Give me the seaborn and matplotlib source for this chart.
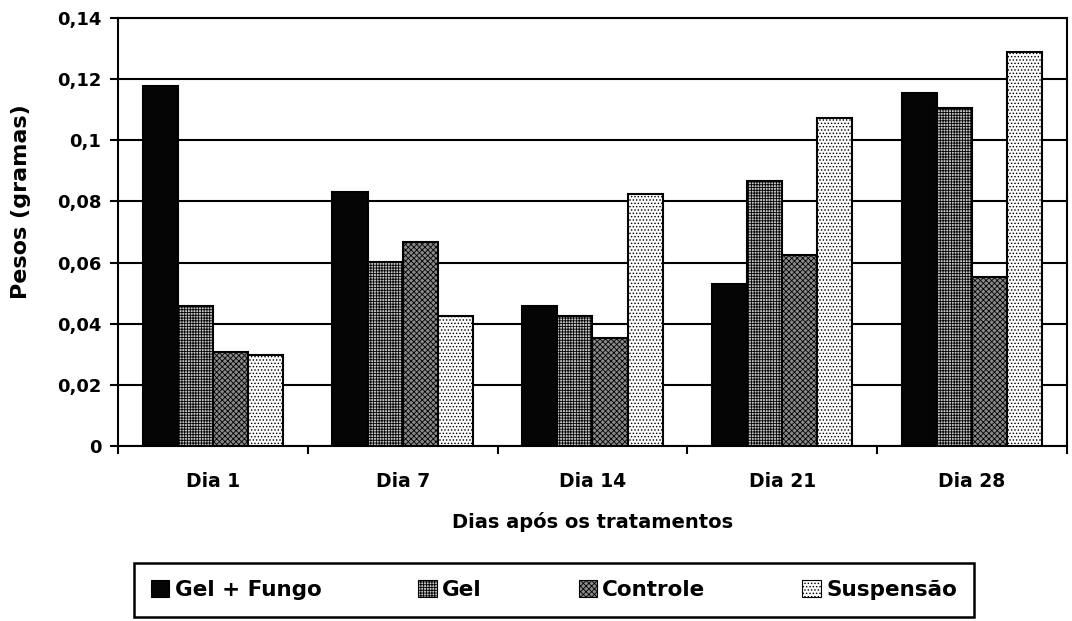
import pandas as pd
import matplotlib
matplotlib.use("Agg")
import matplotlib.pyplot as plt
import seaborn as sns
from matplotlib.ticker import FuncFormatter, FixedLocator

# values
dias = ['Dia 1', 'Dia 7', 'Dia 14', 'Dia 21', 'Dia 28']
tratamentos = ['Gel + Fungo', 'Gel', 'Controle', 'Suspensão']
gel_fungo = [0.1177, 0.0830, 0.0459, 0.0530, 0.1154]
gel = [0.0459, 0.0602, 0.0426, 0.0868, 0.1105]
controle = [0.0306, 0.0667, 0.0352, 0.0625, 0.0552]
suspensao = [0.0297, 0.0424, 0.0823, 0.1074, 0.1288]

rows = []
for nome, vals in zip(tratamentos, [gel_fungo, gel, controle, suspensao]):
    for d, v in zip(dias, vals):
        rows.append({'Dia': d, 'Peso': v, 'Tratamento': nome})
df = pd.DataFrame(rows)

sns.set_style("white")
plt.rcParams['font.family'] = ['DejaVu Sans']
plt.rcParams['font.weight'] = 'bold'
plt.rcParams['text.color'] = 'black'
plt.rcParams['axes.labelcolor'] = 'black'
plt.rcParams['xtick.color'] = 'black'
plt.rcParams['ytick.color'] = 'black'
plt.rcParams['hatch.linewidth'] = 0.6

cores = {'Gel + Fungo': '#050505', 'Gel': '#c4c4c4', 'Controle': '#8a8a8a', 'Suspensão': '#fbfbfb'}
hachuras = ['', '++++++', 'xxxxxx', '.....']
cor_hachura = ['#303030', '#555555', '#2a2a2a', '#9a9a9a']

fig = plt.figure(figsize=(10.72, 6.21), dpi=100)
ax = fig.add_axes([0.110, 0.2818, 0.8853, 0.6892])

sns.barplot(data=df, x='Dia', y='Peso', hue='Tratamento', order=dias, hue_order=tratamentos,
            palette=cores, saturation=1, width=0.74, edgecolor='black', linewidth=1.5,
            legend=False, ax=ax, zorder=3)

for cont, h, hc in zip(ax.containers, hachuras, cor_hachura):
    for p in cont.patches:
        p.set_hatch(h)
        if hasattr(p, 'set_hatchcolor'):
            p.set_hatchcolor(hc)

ax.set_ylim(0, 0.14)
ax.set_xlim(-0.5, 4.5)
ax.set_yticks([0, 0.02, 0.04, 0.06, 0.08, 0.1, 0.12, 0.14])
ax.yaxis.set_major_formatter(FuncFormatter(
    lambda v, pos: (f"{v:.2f}".rstrip('0').rstrip('.')).replace('.', ',')))
ax.grid(axis='y', color='black', linewidth=1.5, zorder=0)
ax.set_axisbelow(True)

for s in ax.spines.values():
    s.set_color('black')
    s.set_linewidth(1.5)

ax.tick_params(axis='y', direction='out', length=6, width=1.5, left=True, labelsize=13, pad=6)
ax.tick_params(axis='x', which='major', length=0, labelsize=13.5, pad=19)
ax.xaxis.set_minor_locator(FixedLocator([-0.5, 0.5, 1.5, 2.5, 3.5, 4.5]))
ax.tick_params(axis='x', which='minor', direction='out', length=6, width=1.5, bottom=True)

ax.set_xlabel('Dias após os tratamentos', fontsize=14, fontweight='bold', labelpad=15)
ax.set_ylabel('Pesos (gramas)', fontsize=16, fontweight='bold', labelpad=18)
ax.yaxis.set_label_coords(-0.092, 0.57)

handles = [cont.patches[0] for cont in ax.containers]
leg = fig.legend(handles, tratamentos, loc='center', ncol=4, mode='expand',
                 bbox_to_anchor=(123 / 1072, 0 / 621, 862 / 1072, 62 / 621),
                 fontsize=15.5, frameon=True, fancybox=False, framealpha=1,
                 handlelength=0.85, handleheight=0.85, handletextpad=0.25, borderpad=0.8)
leg.get_frame().set_edgecolor('black')
leg.get_frame().set_linewidth(1.8)
for t in leg.get_texts():
    t.set_fontweight('bold')
for h in leg.legend_handles:
    h.set_linewidth(0.8)

fig.savefig('out.png', dpi=100)
